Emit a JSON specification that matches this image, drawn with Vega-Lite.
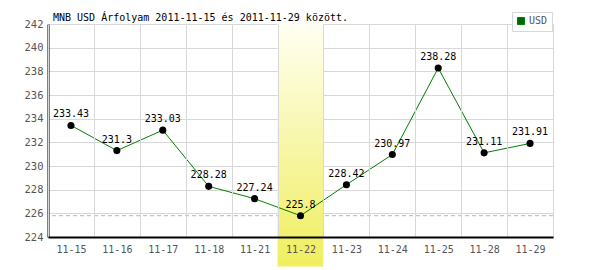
{
  "$schema": "https://vega.github.io/schema/vega-lite/v6.json",
  "width": 505,
  "height": 213,
  "autosize": {"type": "none"},
  "padding": {"left": 48, "top": 24, "right": 47, "bottom": 33},
  "background": "white",
  "config": {
    "view": {"stroke": "#d8d8d8", "strokeWidth": 1},
    "font": "DejaVu Sans Mono"
  },
  "title": {
    "text": "MNB USD Árfolyam 2011-11-15 és 2011-11-29 között.",
    "anchor": "start",
    "frame": "group",
    "orient": "top",
    "dx": 5,
    "offset": -19,
    "baseline": "alphabetic",
    "font": "DejaVu Sans Mono",
    "fontSize": 10,
    "fontWeight": "normal",
    "color": "#000000"
  },
  "datasets": {
    "rates": [
      {"date": "11-15", "rate": 233.43, "series": "USD"},
      {"date": "11-16", "rate": 231.3, "series": "USD"},
      {"date": "11-17", "rate": 233.03, "series": "USD"},
      {"date": "11-18", "rate": 228.28, "series": "USD"},
      {"date": "11-21", "rate": 227.24, "series": "USD"},
      {"date": "11-22", "rate": 225.8, "series": "USD"},
      {"date": "11-23", "rate": 228.42, "series": "USD"},
      {"date": "11-24", "rate": 230.97, "series": "USD"},
      {"date": "11-25", "rate": 238.28, "series": "USD"},
      {"date": "11-28", "rate": 231.11, "series": "USD"},
      {"date": "11-29", "rate": 231.91, "series": "USD"}
    ]
  },
  "encoding": {
    "x": {
      "field": "date",
      "type": "ordinal",
      "sort": null,
      "scale": {
        "domain": ["11-15", "11-16", "11-17", "11-18", "11-21", "11-22", "11-23", "11-24", "11-25", "11-28", "11-29"],
        "paddingInner": 0,
        "paddingOuter": 0
      },
      "axis": {
        "title": null,
        "labelAngle": 0,
        "tickBand": "extent",
        "grid": true,
        "gridColor": "#d8d8d8",
        "gridWidth": 1,
        "ticks": false,
        "domainColor": "#000000",
        "domainWidth": 2,
        "labelColor": "#555555",
        "labelFont": "DejaVu Sans Mono",
        "labelFontSize": 10,
        "labelPadding": 7
      }
    },
    "y": {
      "field": "rate",
      "type": "quantitative",
      "scale": {"domain": [224, 242], "nice": false, "zero": false},
      "axis": {
        "title": null,
        "values": [224, 226, 228, 230, 232, 234, 236, 238, 240, 242],
        "labelOverlap": false,
        "grid": true,
        "gridColor": "#d8d8d8",
        "ticks": false,
        "domainColor": "#000000",
        "domainWidth": 2,
        "labelColor": "#555555",
        "labelFont": "DejaVu Sans Mono",
        "labelFontSize": 10.5,
        "labelPadding": 5
      }
    }
  },
  "layer": [
    {
      "data": {"values": [{"rate": 225.8}]},
      "mark": {"type": "rule", "color": "#99cc99", "strokeDash": [4, 3], "strokeWidth": 1},
      "encoding": {
        "x": null
      }
    },
    {
      "data": {"values": [{"date": "11-22", "rate": 242, "bottom": 221.5}]},
      "mark": {
        "type": "rect",
        "clip": false,
        "color": {
          "gradient": "linear",
          "x1": 0, "y1": 0, "x2": 0, "y2": 1,
          "stops": [
            {"offset": 0, "color": "#fffff2"},
            {"offset": 1, "color": "#f0ee5e"}
          ]
        }
      },
      "encoding": {
        "y2": {"field": "bottom"}
      }
    },
    {
      "data": {"name": "rates"},
      "mark": {"type": "line", "strokeWidth": 1},
      "encoding": {
        "color": {
          "field": "series",
          "type": "nominal",
          "scale": {"range": ["#008000"]},
          "legend": {
            "title": null,
            "orient": "none",
            "legendX": 464,
            "legendY": -12,
            "padding": 4,
            "strokeColor": "#d8d8d8",
            "fillColor": "#ffffff",
            "symbolType": "square",
            "symbolSize": 50,
            "symbolFillColor": "#006600",
            "symbolStrokeColor": "#333333",
            "symbolStrokeWidth": 1,
            "labelColor": "#555555",
            "labelFont": "DejaVu Sans Mono",
            "labelFontSize": 10,
            "labelOffset": 3
          }
        }
      }
    },
    {
      "data": {"name": "rates"},
      "mark": {"type": "point", "filled": true, "color": "#000000", "size": 50, "opacity": 1}
    },
    {
      "data": {"name": "rates"},
      "mark": {"type": "text", "color": "#000000", "baseline": "alphabetic", "dy": -8, "font": "DejaVu Sans Mono", "fontSize": 10},
      "encoding": {
        "text": {"field": "rate", "type": "quantitative"}
      }
    }
  ]
}
